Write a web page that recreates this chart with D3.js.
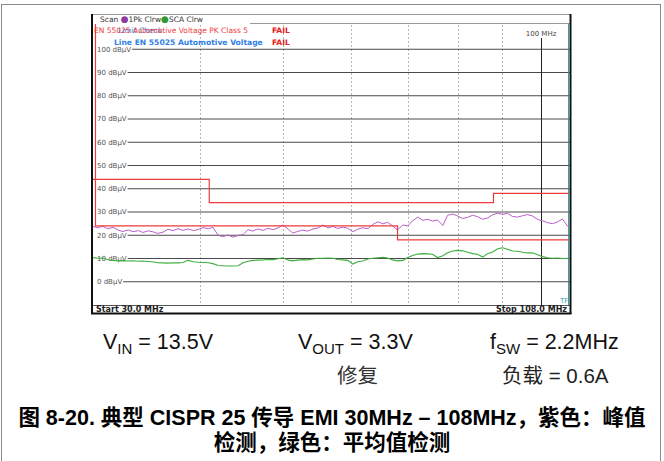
<!DOCTYPE html>
<html>
<head>
<meta charset="utf-8">
<script src="https://cdn.jsdelivr.net/npm/d3@7"></script>
<style>
  body { margin: 0; background: #fff; }
  svg { display: block; font-family: "Liberation Sans", Arial, sans-serif; }
</style>
</head>
<body>
<div id="chart"></div>
<script>
// sweep points (MHz) and the two detector traces (dBµV)
const freqMHz = [30.0, 30.4, 30.8, 31.2, 31.7, 32.1, 32.5, 33.0, 33.4, 33.9, 34.3, 34.8, 35.3, 35.7, 36.2, 36.7,
  37.2, 37.7, 38.2, 38.7, 39.3, 39.8, 40.3, 40.9, 41.4, 42.0, 42.5, 43.1, 43.7, 44.3, 44.9, 45.5, 46.1, 46.7,
  47.4, 48.0, 48.7, 49.3, 50.0, 50.7, 51.3, 52.0, 52.7, 53.4, 54.2, 54.9, 55.6, 56.4, 57.2, 57.9, 58.7, 59.5,
  60.3, 61.1, 61.9, 62.8, 63.6, 64.5, 65.4, 66.2, 67.1, 68.0, 69.0, 69.9, 70.8, 71.8, 72.8, 73.7, 74.7, 75.7,
  76.8, 77.8, 78.9, 79.9, 81.0, 82.1, 83.2, 84.3, 85.5, 86.6, 87.8, 89.0, 90.2, 91.4, 92.6, 93.9, 95.2, 96.4,
  97.7, 99.1, 100.4, 101.8, 103.1, 104.5, 105.9, 107.4, 108.0];

const peakDb = [23.8, 23.2, 23.9, 22.8, 23.4, 22.2, 21.6, 22.3, 21.5, 22.0, 21.2, 21.9, 21.4, 20.8, 21.3, 22.6,
  22.0, 22.8, 22.1, 22.7, 22.0, 22.5, 23.3, 22.8, 23.4, 20.0, 19.4, 20.1, 19.2, 19.9, 20.3, 22.4, 21.8, 22.7,
  22.1, 23.0, 22.4, 23.1, 24.4, 22.6, 21.0, 21.6, 22.2, 21.8, 22.7, 23.1, 24.4, 23.2, 23.8, 22.9, 23.5, 23.0,
  21.5, 22.6, 23.2, 22.8, 24.6, 25.8, 24.9, 25.6, 24.0, 22.3, 24.4, 24.0, 26.2, 27.8, 26.4, 26.9, 26.1, 26.6,
  24.2, 28.6, 29.1, 28.3, 27.2, 27.7, 28.6, 28.0, 26.9, 27.4, 28.8, 29.5, 29.0, 29.4, 28.1, 27.8, 28.4, 28.9,
  28.3, 26.8, 26.2, 25.4, 25.0, 25.7, 27.0, 23.9, 23.6];

const avgDb = [10.4, 10.1, 10.2, 9.6, 9.2, 9.0, 9.1, 8.9, 9.0, 8.8, 8.9, 8.7, 8.5, 8.2, 8.1, 8.0,
  8.2, 8.1, 8.3, 9.2, 8.6, 8.4, 8.3, 8.2, 7.8, 7.0, 6.9, 6.8, 6.8, 6.9, 8.2, 8.8, 9.2, 9.3,
  9.4, 9.6, 9.5, 9.9, 10.3, 9.3, 9.0, 9.3, 9.5, 9.4, 9.8, 10.1, 10.1, 10.2, 10.1, 9.6, 9.4, 9.2,
  7.6, 8.6, 8.9, 9.8, 10.1, 10.3, 10.5, 10.2, 9.4, 9.0, 9.2, 10.4, 11.3, 11.9, 12.1, 12.0, 11.8, 10.4,
  11.2, 12.5, 13.2, 13.5, 13.3, 12.7, 12.1, 11.8, 10.6, 12.0, 12.8, 14.2, 14.6, 14.0, 13.2, 13.1, 12.7, 12.4,
  12.5, 11.6, 10.8, 10.3, 10.1, 10.2, 10.0, 10.1, 10.0];

// EN 55025 limit lines (step corners)
const peakLimitMHz = [30, 41, 41, 88, 88, 108];
const peakLimitDb = [44, 44, 34, 34, 38, 38];
const avgLimitMHz = [30.2, 30.2, 68, 68, 108];
const avgLimitDb = [115, 24, 24, 18, 18];

const levelTicks = [0, 10, 20, 30, 40, 50, 60, 70, 80, 90, 100];
const freqGrid = [40, 50, 60, 70, 80, 90];
const markerMHz = 100;

const COLORS = {
    peak: '#bb5ccb',
    avg: '#3fae3f',
    limit: '#ee3b3b',
    blue: '#2f7fe6',
    grid: '#4a4a4a',
    dash: '#b5b5b5',
    label: '#555',
    teal: '#3d9aa6'
};

const SCREEN_FONT = '"DejaVu Sans", Verdana, sans-serif';
const CJK_FONT = '"Liberation Sans", "Noto Sans CJK SC", sans-serif';

const W = 664, H = 461;
const plot = { left: 93, right: 569.7, top: 24, bottom: 305 };

const svg = d3.select('#chart').append('svg')
    .attr('width', W)
    .attr('height', H);

svg.append('rect').attr('width', W).attr('height', H).attr('fill', '#fff');

// page frame around the figure
svg.append('rect')
    .attr('x', 1.5).attr('y', 4.5)
    .attr('width', 659).attr('height', 480)
    .attr('fill', 'none')
    .attr('stroke', '#8a8a8a');

const x = d3.scaleLog().domain([30, 108]).range([plot.left, plot.right]);
const y = d3.scaleLinear().domain([-10, 110]).range([plot.bottom, plot.top + 2]);

svg.append('clipPath').attr('id', 'plotClip')
    .append('rect')
    .attr('x', plot.left).attr('y', plot.top)
    .attr('width', plot.right - plot.left).attr('height', plot.bottom - plot.top);

const screen = svg.append('g').attr('font-family', SCREEN_FONT);

// analyzer screen outline
screen.append('line').attr('x1', 93).attr('x2', 570).attr('y1', 14.5).attr('y2', 14.5)
    .attr('stroke', '#9a9a9a');
screen.append('line').attr('x1', 250).attr('x2', 570).attr('y1', 23.5).attr('y2', 23.5)
    .attr('stroke', '#9a9a9a');

// dashed frequency grid
screen.append('g').selectAll('line')
    .data(freqGrid)
    .enter()
    .append('line')
    .attr('x1', d => Math.round(x(d)) + 0.5)
    .attr('x2', d => Math.round(x(d)) + 0.5)
    .attr('y1', plot.top + 1)
    .attr('y2', plot.bottom)
    .attr('stroke', COLORS.dash)
    .attr('stroke-dasharray', '2,2');

// level grid with labels at the left
const levelGroup = screen.append('g');
levelTicks.forEach(t => {
    const yy = y(t);
    const label = levelGroup.append('text')
        .attr('x', 97)
        .attr('y', yy)
        .attr('dy', '0.35em')
        .attr('font-size', 7)
        .attr('fill', COLORS.label)
        .text(`${t} dBµV`);
    const end = 97 + label.node().getComputedTextLength() + 1;
    levelGroup.append('line')
        .attr('x1', end).attr('x2', 570)
        .attr('y1', yy).attr('y2', yy)
        .attr('stroke', COLORS.grid)
        .attr('stroke-width', 1);
});

// marker at 100 MHz
screen.append('line')
    .attr('x1', Math.round(x(markerMHz)) + 0.5)
    .attr('x2', Math.round(x(markerMHz)) + 0.5)
    .attr('y1', 38).attr('y2', plot.bottom)
    .attr('stroke', '#222');
screen.append('text')
    .attr('x', x(markerMHz))
    .attr('y', 36)
    .attr('text-anchor', 'middle')
    .attr('font-size', 7)
    .attr('fill', '#444')
    .text('100 MHz');

// traces
const line = d3.line()
    .x(d => x(d[0]))
    .y(d => y(d[1]));

const traces = screen.append('g').attr('clip-path', 'url(#plotClip)');

traces.append('path')
    .datum(freqMHz.map((f, i) => [f, peakDb[i]]))
    .attr('fill', 'none')
    .attr('stroke', COLORS.peak)
    .attr('stroke-width', 1)
    .attr('d', line);

traces.append('path')
    .datum(freqMHz.map((f, i) => [f, avgDb[i]]))
    .attr('fill', 'none')
    .attr('stroke', COLORS.avg)
    .attr('stroke-width', 1.1)
    .attr('d', line);

[[peakLimitMHz, peakLimitDb], [avgLimitMHz, avgLimitDb]].forEach(([fs, ls]) => {
    traces.append('path')
        .datum(fs.map((f, i) => [f, ls[i]]))
        .attr('fill', 'none')
        .attr('stroke', COLORS.limit)
        .attr('stroke-width', 1.2)
        .attr('d', line);
});

// header: trace legend
const header = screen.append('text')
    .attr('x', 100).attr('y', 21.5)
    .attr('font-size', 7.5)
    .attr('fill', '#333');
header.append('tspan').text('Scan ');
header.append('tspan').attr('fill', '#8e3aa0').attr('font-size', 9).text('\u25CF');
header.append('tspan').text('1Pk Clrw');
header.append('tspan').attr('fill', '#2c9a2c').attr('font-size', 9).text('\u25CF');
header.append('tspan').text('SCA Clrw');

// limit check box (the analyzer draws these two on top of each other)
screen.append('text').attr('x', 118).attr('y', 33)
    .attr('font-size', 7.5).attr('fill', COLORS.blue).text('Limit Check');
screen.append('text').attr('x', 94).attr('y', 33)
    .attr('font-size', 7.5).attr('fill', COLORS.limit)
    .text('EN 55025 Automotive Voltage PK Class 5');
screen.append('text').attr('x', 114).attr('y', 44.5)
    .attr('font-size', 7.6).attr('font-weight', 'bold').attr('fill', COLORS.blue)
    .text('Line EN 55025 Automotive Voltage');
[33, 44.5].forEach(yy => {
    screen.append('text').attr('x', 272).attr('y', yy)
        .attr('font-size', 7.6).attr('font-weight', 'bold').attr('fill', '#e02020')
        .text('FAIL');
});

// bottom strip
screen.append('line').attr('x1', 93).attr('x2', 570).attr('y1', 305.5).attr('y2', 305.5)
    .attr('stroke', '#555');
screen.append('text').attr('x', 96).attr('y', 312)
    .attr('font-size', 8).attr('font-weight', 'bold').attr('fill', '#222')
    .text('Start 30.0 MHz');
screen.append('text').attr('x', 567).attr('y', 312).attr('text-anchor', 'end')
    .attr('font-size', 8).attr('font-weight', 'bold').attr('fill', '#222')
    .text('Stop 108.0 MHz');
screen.append('text').attr('x', 560).attr('y', 303)
    .attr('font-size', 7).attr('fill', COLORS.teal).text('TF');

// screen border
screen.append('line').attr('x1', 568.5).attr('x2', 568.5).attr('y1', 24).attr('y2', 305)
    .attr('stroke', COLORS.teal);
screen.append('line').attr('x1', 92).attr('x2', 92).attr('y1', 14).attr('y2', 314)
    .attr('stroke', '#111').attr('stroke-width', 2);
screen.append('line').attr('x1', 570.5).attr('x2', 570.5).attr('y1', 14).attr('y2', 314)
    .attr('stroke', '#111').attr('stroke-width', 2);
screen.append('line').attr('x1', 91).attr('x2', 571.5).attr('y1', 313.5).attr('y2', 313.5)
    .attr('stroke', '#111').attr('stroke-width', 2);

// conditions below the screenshot
function condition(xPos, yPos, main, sub, rest) {
    const t = svg.append('text')
        .attr('x', xPos).attr('y', yPos)
        .attr('font-size', 21.5)
        .attr('fill', '#111');
    t.append('tspan').text(main);
    t.append('tspan').attr('font-size', 15).attr('dy', 5).text(sub);
    t.append('tspan').attr('dy', -5).text(rest);
}
condition(103, 349, 'V', 'IN', ' = 13.5V');
condition(298, 349, 'V', 'OUT', ' = 3.3V');
condition(490, 349, 'f', 'SW', ' = 2.2MHz');

svg.append('text').attr('x', 337).attr('y', 383)
    .attr('font-size', 20.5).attr('font-family', CJK_FONT).attr('fill', '#333')
    .text('修复');
svg.append('text').attr('x', 502).attr('y', 383)
    .attr('font-size', 20.5).attr('font-family', CJK_FONT).attr('fill', '#222')
    .text('负载 = 0.6A');

// caption
svg.append('text').attr('x', 332).attr('y', 425)
    .attr('text-anchor', 'middle')
    .attr('font-size', 21.5).attr('font-weight', 'bold').attr('font-family', CJK_FONT).attr('fill', '#000')
    .text('图 8-20. 典型 CISPR 25 传导 EMI 30MHz – 108MHz，紫色：峰值');
svg.append('text').attr('x', 332).attr('y', 450)
    .attr('text-anchor', 'middle')
    .attr('font-size', 21.5).attr('font-weight', 'bold').attr('font-family', CJK_FONT).attr('fill', '#000')
    .text('检测，绿色：平均值检测');
</script>
</body>
</html>
